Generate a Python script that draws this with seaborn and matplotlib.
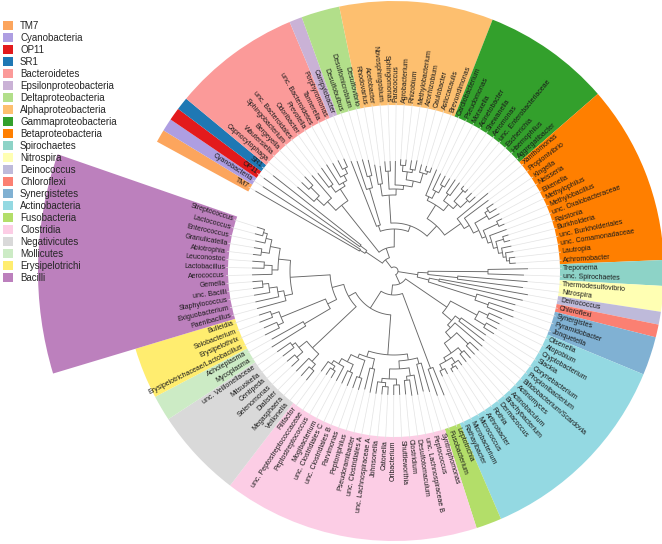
import numpy as np
import matplotlib
matplotlib.use("Agg")
import matplotlib.pyplot as plt
from matplotlib.patches import Patch
import seaborn as sns

# ---------------- data ----------------
group_names = ["TM7", "Cyanobacteria", "OP11", "SR1", "Bacteroidetes",
               "Epsilonproteobacteria", "Deltaproteobacteria", "Alphaproteobacteria",
               "Gammaproteobacteria", "Betaproteobacteria", "Spirochaetes", "Nitrospira",
               "Deinococcus", "Chloroflexi", "Synergistetes", "Actinobacteria",
               "Fusobacteria", "Clostridia", "Negativicutes", "Mollicutes",
               "Erysipelotrichi", "Bacilli"]
group_colors = ["#fca55d", "#ae9ee2", "#e31a1c", "#1f78b4", "#fb9a99",
                "#cab2d6", "#b2df8a", "#fdbf6f", "#33a02c", "#ff7f00",
                "#8dd3c7", "#ffffb3", "#bebada", "#fb8072", "#80b1d3",
                "#94d9e2", "#b3de69", "#fccde5", "#d9d9d9", "#ccebc5",
                "#ffed6f", "#bc80bd"]

tm7 = ["TM7"]
cyanobacteria = ["Cyanobacteria"]
op11 = ["OP11"]
sr1 = ["SR1"]
bacteroidetes = ["Capnocytophaga", "Wautersiella", "Bergeyella", "Sphingobacterium",
                 "unc. Bacteroidales", "Odoribacter", "Prevotella", "unc. Bacteroidetes",
                 "Tannerella", "Porphyromonas"]
epsilon = ["Campylobacter"]
delta = ["Desulfobulbus", "Desulfomicrobium", "Desulfovibrio"]
alpha = ["Rhodovarius", "Acetobacter", "Novosphingobium", "Sphingomonas", "Paracoccus",
         "Agrobacterium", "Rhizobium", "Methylobacterium", "Azorhizobium", "Caulobacter",
         "Asticcacaulis", "Brevundimonas"]
gamma = ["Cardiobacterium", "Pseudomonas", "Moraxella", "Acinetobacter", "Shewanella",
         "Aeromonas", "unc. Enterobacteriaceae", "Escherichia", "Haemophilus",
         "Aggregatibacter"]
beta = ["Xanthomonas", "Propionivibrio", "Kingella", "Neisseria", "Eikenella",
        "Methylophilus", "Methylobacillus", "unc. Oxalobacteraceae", "Ralstonia",
        "Burkholderia", "unc. Burkholderiales", "unc. Comamonadaceae", "Lautropia",
        "Achromobacter"]
spirochaetes = ["Treponema", "unc. Spirochaetes"]
nitrospira = ["Thermodesulfovibrio", "Nitrospira"]
deinococcus = ["Deinococcus"]
chloroflexi = ["Chloroflexi"]
synergistetes = ["Synergistes", "Pyramidobacter", "Jonquetella"]
actinobacteria = ["Olsenella", "Atopobium", "Cryptobacterium", "Slackia", "Corynebacterium",
                  "Propionibacterium", "Bifidobacterium/Scardovia", "Actinomyces",
                  "Actinobaculum", "Brachybacterium", "Dermacoccus", "Rothia",
                  "Arthrobacter", "Micrococcus", "Microbacterium", "Rathayibacter"]
fusobacteria = ["Leptotrichia", "Fusobacterium"]
clostridia = ["Syntrophomonas", "Peptococcus", "unc. Lachnospiraceae B", "Desulfotomaculum",
              "Clostridium", "Shuttleworthia", "Oribacterium", "Catonella", "Johnsonella",
              "unc. Lachnospiraceae A", "unc. Clostridiales A", "Pseudoramibacter",
              "Peptoniphilus", "Parvimonas", "unc. Clostridiales B", "unc. Clostridiales C",
              "Mogibacterium", "Peptostreptococcus", "unc. Peptostreptococcaceae", "Filifactor"]
negativicutes = ["Veillonella", "Megasphaera", "Dialister", "Selenomonas", "Centipeda",
                 "Mitsuokella", "unc. Veillonellaceae"]
mollicutes = ["Mycoplasma", "Acholeplasma"]
erysipelotrichi = ["Erysipelotrichaceae/Lactobacillus", "Erysipelothrix", "Solobacterium",
                   "Bulleidia"]
bacilli = ["Paenibacillus", "Exiguobacterium", "Staphylococcus", "unc. Bacilli", "Gemella",
           "Aerococcus", "Lactobacillus", "Leuconostoc", "Abiotrophia", "Granulicatella",
           "Enterococcus", "Lactococcus", "Streptococcus"]

group_leaves = [tm7, cyanobacteria, op11, sr1, bacteroidetes, epsilon, delta, alpha, gamma,
                beta, spirochaetes, nitrospira, deinococcus, chloroflexi, synergistetes,
                actinobacteria, fusobacteria, clostridia, negativicutes, mollicutes,
                erysipelotrichi, bacilli]

# tree (Newick, branch lengths)
nwk_bact = ("(((Capnocytophaga:22,(Wautersiella:10,Bergeyella:12):12):10,Sphingobacterium:30):12,"
            "((unc. Bacteroidales:18,Odoribacter:20):8,(Prevotella:24,(unc. Bacteroidetes:16,"
            "(Tannerella:10,Porphyromonas:9):6):6):4):14)")
nwk_alpha = ("((Rhodovarius:20,Acetobacter:18):12,((Novosphingobium:10,Sphingomonas:10):18,"
             "(Paracoccus:24,(((Agrobacterium:6,Rhizobium:6):6,(Methylobacterium:9,Azorhizobium:10):3):8,"
             "(Caulobacter:8,(Asticcacaulis:5,Brevundimonas:5):3):10):6):4):6)")
nwk_gamma = ("((Cardiobacterium:28,(Pseudomonas:18,(Moraxella:10,Acinetobacter:10):8):8):4,"
             "((Shewanella:16,Aeromonas:16):8,((unc. Enterobacteriaceae:4,Escherichia:4):14,"
             "(Haemophilus:8,Aggregatibacter:8):10):6):8)")
nwk_beta = ("(Xanthomonas:40,(Propionivibrio:30,(((Kingella:8,Neisseria:8):4,Eikenella:12):14,"
            "((Methylophilus:6,Methylobacillus:6):16,(unc. Oxalobacteraceae:18,((Ralstonia:6,"
            "Burkholderia:6):8,(unc. Burkholderiales:10,(unc. Comamonadaceae:8,(Lautropia:6,"
            "Achromobacter:6):3):3):4):4):4):4):6):6)")
nwk_proteo = ("((Campylobacter:70,(Desulfobulbus:30,(Desulfomicrobium:18,Desulfovibrio:16):12):38):6,"
              "(" + nwk_alpha + ":28,(" + nwk_gamma + ":16," + nwk_beta + ":20):14):6)")
nwk_a = ("(((TM7:120,Cyanobacteria:116):6,(OP11:118,SR1:112):8):20,(" + nwk_bact + ":60,"
         + nwk_proteo + ":18):10)")
nwk_b = ("(((Treponema:40,unc. Spirochaetes:36):60,(Thermodesulfovibrio:70,Nitrospira:66):30):10,"
         "((Deinococcus:90,Chloroflexi:86):10,(Synergistes:40,(Pyramidobacter:26,"
         "Jonquetella:28):14):50):12)")
nwk_actino = ("(((Olsenella:14,Atopobium:14):10,(Cryptobacterium:12,Slackia:12):12):30,"
              "((Corynebacterium:30,Propionibacterium:32):6,(Bifidobacterium/Scardovia:36,"
              "((Actinomyces:12,Actinobaculum:12):16,((Brachybacterium:10,Dermacoccus:10):6,"
              "((Rothia:6,(Arthrobacter:4,Micrococcus:4):3):6,(Microbacterium:6,"
              "Rathayibacter:6):6):4):12):8):4):12)")
nwk_fuso = "(Leptotrichia:30,Fusobacterium:28)"
nwk_clos = ("(((Syntrophomonas:30,Peptococcus:28):6,((unc. Lachnospiraceae B:20,(Desulfotomaculum:16,"
            "Clostridium:14):4):8,((Shuttleworthia:10,Oribacterium:10):6,((Catonella:8,Johnsonella:8):4,"
            "unc. Lachnospiraceae A:12):4):10):8):6,((unc. Clostridiales A:24,Pseudoramibacter:22):10,"
            "((Peptoniphilus:12,Parvimonas:12):18,((unc. Clostridiales B:14,unc. Clostridiales C:14):8,"
            "(Mogibacterium:16,((Peptostreptococcus:8,unc. Peptostreptococcaceae:8):4,"
            "Filifactor:12):4):6):8):4):6)")
nwk_neg = ("(((Veillonella:12,Megasphaera:12):6,Dialister:18):10,((Selenomonas:10,Centipeda:10):8,"
           "(Mitsuokella:14,unc. Veillonellaceae:16):4):10)")
nwk_moll = "(Mycoplasma:40,Acholeplasma:36)"
nwk_erys = ("((Erysipelotrichaceae/Lactobacillus:16,Erysipelothrix:14):6,"
            "(Solobacterium:14,Bulleidia:12):8)")
nwk_bac = ("((Paenibacillus:30,(Exiguobacterium:24,(Staphylococcus:16,(unc. Bacilli:10,"
           "Gemella:10):6):8):6):8,((Aerococcus:20,(Lactobacillus:12,Leuconostoc:12):8):6,"
           "((Abiotrophia:8,Granulicatella:8):8,(Enterococcus:10,(Lactococcus:8,"
           "Streptococcus:8):4):6):10):12)")
nwk_firm = ("(" + nwk_clos + ":40,(" + nwk_neg + ":60,((" + nwk_moll + ":30," + nwk_erys
            + ":48):10," + nwk_bac + ":40):12):8)")
nwk_c = "(" + nwk_actino + ":50,(" + nwk_fuso + ":80," + nwk_firm + ":20):10)"
tree_newick = "(" + nwk_a + ":10," + nwk_b + ":20," + nwk_c + ":10);"

# ---------------- layout / style ----------------
CX, CY = 394, 271            # circle centre in pixels
W, H = 662, 544
RMAX = 400
ROOT_R = 4
R_IN = 166                   # inner edge of coloured sectors
R_LABEL = 169
R_OUT = 270
R_OUT_SPECIAL = {"Bacilli": 356}
START_DEG = 150.0
STEP_DEG = 2.76

sns.set_theme(style="white")
plt.rcParams["font.family"] = ["Liberation Sans", "DejaVu Sans"]

fig = plt.figure(figsize=(W / 100, H / 100), dpi=100)
ax = fig.add_axes([(CX - RMAX) / W, (H - CY - RMAX) / H, 2 * RMAX / W, 2 * RMAX / H],
                  projection="polar")
ax.set_ylim(0, RMAX)
ax.set_axis_off()


def parse_newick(s):
    s = s.strip().rstrip(";")
    pos = 0

    def node():
        nonlocal pos
        nd = {"children": [], "name": "", "length": 0.0}
        if s[pos] == "(":
            pos += 1
            while True:
                nd["children"].append(node())
                if s[pos] == ",":
                    pos += 1
                    continue
                pos += 1
                break
        st = pos
        while pos < len(s) and s[pos] not in ":,()":
            pos += 1
        nd["name"] = s[st:pos].strip()
        if pos < len(s) and s[pos] == ":":
            pos += 1
            st = pos
            while pos < len(s) and s[pos] not in ",()":
                pos += 1
            nd["length"] = float(s[st:pos])
        return nd

    return node()


# leaf angles
all_leaves = [lf for g in group_leaves for lf in g]
theta_of = {}
for i, lf in enumerate(all_leaves):
    theta_of[lf] = np.deg2rad(START_DEG - i * STEP_DEG)
step = np.deg2rad(STEP_DEG)

# coloured sectors
for name, col, leaves in zip(group_names, group_colors, group_leaves):
    t0 = theta_of[leaves[0]]
    t1 = theta_of[leaves[-1]]
    ro = R_OUT_SPECIAL.get(name, R_OUT)
    ax.bar((t0 + t1) / 2, ro - R_IN, width=abs(t0 - t1) + step, bottom=R_IN,
           color=col, edgecolor="none", linewidth=0, align="center", zorder=1)

# tree
tree = parse_newick(tree_newick)
TREE_COL = "#666666"
TREE_LW = 0.65


def layout(nd, r_parent):
    nd["r"] = r_parent + nd["length"]
    if not nd["children"]:
        nd["theta"] = theta_of[nd["name"]]
        return
    for c in nd["children"]:
        layout(c, nd["r"])
    ths = [c["theta"] for c in nd["children"]]
    nd["theta"] = (min(ths) + max(ths)) / 2


def draw(nd):
    if not nd["children"]:
        ax.plot([nd["theta"], nd["theta"]], [nd["r"], R_LABEL - 1], color="#e3e3e3",
                lw=0.5, zorder=2, solid_capstyle="butt")
        return
    ths = [c["theta"] for c in nd["children"]]
    arc = np.linspace(min(ths), max(ths), 60)
    ax.plot(arc, np.full_like(arc, nd["r"]), color=TREE_COL, lw=TREE_LW, zorder=3)
    for c in nd["children"]:
        ax.plot([c["theta"], c["theta"]], [nd["r"], c["r"]], color=TREE_COL, lw=TREE_LW,
                zorder=3, solid_capstyle="butt")
        draw(c)


layout(tree, ROOT_R - tree["length"])
draw(tree)

# leaf labels
for lf in all_leaves:
    th = theta_of[lf]
    deg = (np.rad2deg(th) + 180) % 360 - 180
    if -90 <= deg <= 90:
        rot, ha = deg, "left"
    else:
        rot, ha = deg - 180 if deg > 0 else deg + 180, "right"
    ax.text(th, R_LABEL, lf, rotation=rot, rotation_mode="anchor", ha=ha, va="center",
            fontsize=5.0, color="#1a1a1a", zorder=4)

# legend
handles = [Patch(facecolor=c, edgecolor="none") for c in group_colors]
fig.legend(handles, group_names, loc="upper left", bbox_to_anchor=(3 / W, 1 - 21 / H),
           frameon=False, fontsize=7.0, handlelength=1.05, handleheight=1.05,
           handletextpad=0.7, labelspacing=0.205, borderpad=0, borderaxespad=0)

fig.savefig("out.png", dpi=100)
